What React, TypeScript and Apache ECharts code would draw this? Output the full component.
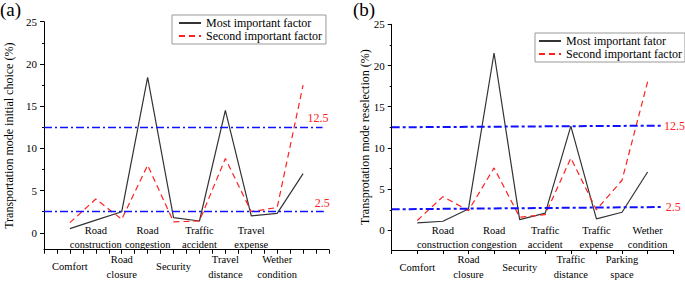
import React, { useEffect, useRef } from "react";
import * as echarts from "echarts";

const FONT = "'Liberation Serif', 'Times New Roman', serif";

const namesA = [
  "Comfort", "Road\nconstruction", "Road\nclosure", "Road\ncongestion", "Security",
  "Traffic\naccident", "Travel\ndistance", "Travel\nexpense", "Wether\ncondition", "",
];
const namesB = [
  "Comfort", "Road\nconstruction", "Road\nclosure", "Road\ncongestion", "Security",
  "Traffic\naccident", "Traffic\ndistance", "Traffic\nexpense", "Parking\nspace", "Wether\ncondition",
];
const mostA = [0.5, 1.5, 2.5, 18.4, 1.8, 1.4, 14.5, 2.0, 2.3, 7.0];
const secondA = [1.2, 4.0, 1.6, 8.0, 1.3, 1.4, 8.8, 2.5, 3.0, 17.5];
const mostB = [0.8, 1.0, 2.5, 21.5, 1.2, 2.0, 12.6, 1.3, 2.1, 7.0];
const secondB = [1.1, 4.0, 2.3, 7.5, 1.5, 1.8, 8.7, 2.4, 6.0, 18.0];
const refLabels = ["12.5", "2.5"];
const refA = [[12.5, 12.5], [2.5, 2.5]];
const refB = [[12.45, 12.65], [2.46, 2.74]];
const refEndA = [10.75, 10.8];
const refEndB = [10.56, 10.63];
const legendA = ["Most important factor", "Second important factor"];
const legendB = ["Most important fator", "Second important factor"];
const yMinA = -2;
const yMinB = -2.5;
const yMax = 25;
const yStep = 5;

const toXY = (arr: number[]) => arr.map((v, i) => [i + 1, v]);

function bottomAxes(gridIndex: number, names: string[], minor: boolean, downMargin: number, upMargin: number) {
  const lab = (up: boolean) => (v: number) => {
    const i = Math.round(v) - 1;
    if (i < 0 || i >= names.length || Math.abs(v - Math.round(v)) > 1e-6) return "";
    const isUp = i % 2 === 1;
    return isUp === up ? names[i] : "";
  };
  const common = {
    type: "value" as const,
    gridIndex,
    min: 0,
    max: 11,
    interval: 1,
    position: "bottom" as const,
    splitLine: { show: false },
  };
  return [
    {
      ...common,
      axisLine: { show: true, onZero: false, lineStyle: { color: "#000", width: 1 } },
      axisTick: { show: true, length: 4, lineStyle: { color: "#000" } },
      minorTick: { show: minor, splitNumber: 2, length: 4, lineStyle: { color: "#000" } },
      axisLabel: {
        formatter: lab(false), margin: downMargin, verticalAlign: "middle", lineHeight: 15,
        fontSize: 10.5, fontFamily: FONT, color: "#000",
      },
    },
    {
      ...common,
      axisLine: { show: false, onZero: false },
      axisTick: { show: false },
      axisLabel: {
        formatter: lab(true), margin: upMargin, verticalAlign: "middle", lineHeight: 14,
        fontSize: 10.5, fontFamily: FONT, color: "#000",
      },
    },
  ];
}

const hiddenX = (gridIndex: number) => ({
  type: "value" as const, gridIndex, min: 0, max: 11, show: false,
});

function refMarkLine(levels: number[][], ends: number[], pos: string, width: number, dash: number[], dist: any) {
  return {
    silent: true,
    symbol: "none",
    lineStyle: { color: "#1010ff", width, type: dash },
    label: { show: true, position: pos, color: "#ff2020", fontSize: 12, fontFamily: FONT, distance: dist },
    data: levels.map((lv, k) => [
      { coord: [0, lv[0]], label: { formatter: refLabels[k] } },
      { coord: [ends[k], lv[1]] },
    ]),
  };
}

export default function App() {
  const ref = useRef<HTMLDivElement>(null);
  useEffect(() => {
    if (!ref.current) return;
    const chart = echarts.init(ref.current, null, { renderer: "svg" });

    const gA = { left: 44, top: 21.7, width: 285, height: 228 };
    const gB = { left: 391.7, top: 24.3, width: 281.5, height: 226.7 };
    const tickGrid = (g: any, min: number) => ({ ...g, height: (g.height * yMax) / (yMax - min) });

    const lineAxis = (gridIndex: number, min: number, name: string, nameGap: number) => ({
      type: "value" as const, gridIndex, min, max: yMax,
      splitLine: { show: false },
      axisLine: { show: true, onZero: false, lineStyle: { color: "#000", width: 1 } },
      axisTick: { show: false },
      axisLabel: { show: false },
      name, nameLocation: "middle" as const, nameGap,
      nameTextStyle: { fontSize: 12, fontFamily: FONT, color: "#000" },
    });
    const tickAxis = (gridIndex: number) => ({
      type: "value" as const, gridIndex, min: 0, max: yMax, interval: yStep,
      splitLine: { show: false },
      axisLine: { show: false },
      axisTick: { show: true, length: 4, lineStyle: { color: "#000" } },
      minorTick: { show: true, splitNumber: 2, length: 2, lineStyle: { color: "#000" } },
      axisLabel: { fontSize: 11, fontFamily: FONT, color: "#000", margin: 7 },
    });

    const legendCommon = {
      orient: "vertical", itemWidth: 22, itemGap: 1, borderColor: "#999", borderWidth: 1,
      itemStyle: { opacity: 0 },
      textStyle: { fontSize: 12, fontFamily: FONT, color: "#000" },
    };
    const option: any = {
      animation: false,
      backgroundColor: "#fff",
      textStyle: { fontFamily: FONT },
      title: [
        { text: "(a)", left: 0, top: 0, padding: 0, textStyle: { fontSize: 19, fontWeight: "normal", fontFamily: FONT, color: "#000" } },
        { text: "(b)", left: 353, top: 0, padding: 0, textStyle: { fontSize: 19, fontWeight: "normal", fontFamily: FONT, color: "#000" } },
      ],
      legend: [
        { ...legendCommon, data: legendA, left: 172, top: 15, itemHeight: 14, padding: [2, 4, 2, 6] },
        { ...legendCommon, data: legendB, left: 535, top: 33, itemHeight: 13, padding: [2, 3, 2, 3] },
      ],
      grid: [gA, tickGrid(gA, yMinA), gB, tickGrid(gB, yMinB)],
      xAxis: [
        ...bottomAxes(0, namesA, true, 17, -12),
        hiddenX(1),
        ...bottomAxes(2, namesB, false, 17, -13),
        hiddenX(3),
      ],
      yAxis: [
        lineAxis(0, yMinA, "Transportation mode initial choice (%)", 29),
        tickAxis(1),
        lineAxis(2, yMinB, "Transprotation mode reselection (%)", 21),
        tickAxis(3),
      ],
      series: [
        {
          name: legendA[0], type: "line", xAxisIndex: 0, yAxisIndex: 0, data: toXY(mostA), symbol: "none",
          lineStyle: { color: "#333", width: 1.2 }, itemStyle: { color: "#333" },
          markLine: refMarkLine(refA, refEndA, "insideEndTop", 1.3, [8, 3, 2, 3], [-6, 3]),
        },
        {
          name: legendA[1], type: "line", xAxisIndex: 0, yAxisIndex: 0, data: toXY(secondA), symbol: "none",
          lineStyle: { color: "#ff2020", width: 1.2, type: [6, 4] }, itemStyle: { color: "#ff2020" },
        },
        {
          name: legendB[0], type: "line", xAxisIndex: 3, yAxisIndex: 2, data: toXY(mostB), symbol: "none",
          lineStyle: { color: "#333", width: 1.2 }, itemStyle: { color: "#333" },
          markLine: refMarkLine(refB, refEndB, "end", 2, [8, 3, 3, 3], 2),
        },
        {
          name: legendB[1], type: "line", xAxisIndex: 3, yAxisIndex: 2, data: toXY(secondB), symbol: "none",
          lineStyle: { color: "#ff2020", width: 1.2, type: [6, 4] }, itemStyle: { color: "#ff2020" },
        },
      ],
    };
    chart.setOption(option);
    return () => chart.dispose();
  }, []);
  return (
    <div
      ref={ref}
      style={{ position: "fixed", left: 0, top: 0, width: 685, height: 282, background: "#fff" }}
    />
  );
}
